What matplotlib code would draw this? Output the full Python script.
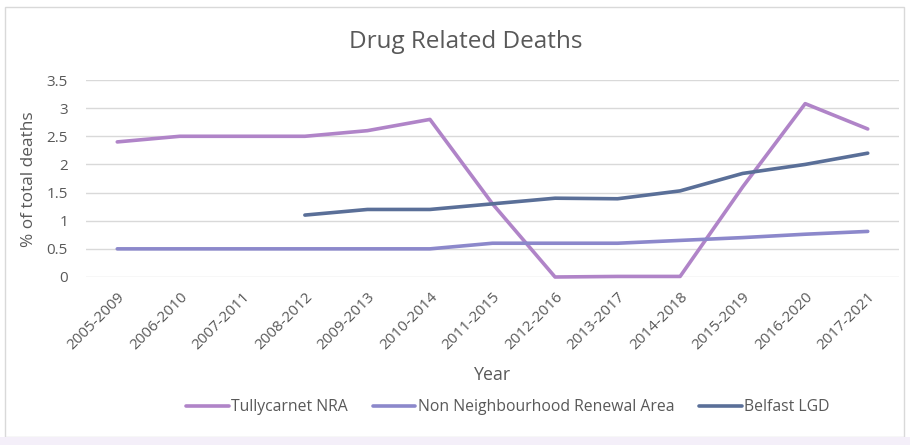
import matplotlib
matplotlib.use("Agg")
import matplotlib.pyplot as plt
from matplotlib.patches import Rectangle

categories = ["2005-2009", "2006-2010", "2007-2011", "2008-2012", "2009-2013", "2010-2014",
              "2011-2015", "2012-2016", "2013-2017", "2014-2018", "2015-2019", "2016-2020", "2017-2021"]
tullycarnet = [2.4, 2.5, 2.5, 2.5, 2.6, 2.8, 1.3, 0.0, 0.01, 0.01, 1.6, 3.08, 2.63]
non_nra = [0.5, 0.5, 0.5, 0.5, 0.5, 0.5, 0.6, 0.6, 0.6, 0.65, 0.7, 0.76, 0.81]
belfast = [None, None, None, 1.1, 1.2, 1.2, 1.3, 1.4, 1.39, 1.53, 1.84, 2.0, 2.2]

plt.rcParams['font.family'] = ['Open Sans', 'DejaVu Sans']
text_c = '#595959'

fig = plt.figure(figsize=(9.1, 4.45), dpi=100)
fig.patches.append(Rectangle((5/910, 8/445), 899/910, 430/445, transform=fig.transFigure,
                             fill=False, edgecolor='#D9D9D9', linewidth=1.0))
fig.patches.append(Rectangle((0, 0), 1, 8/445, transform=fig.transFigure,
                             facecolor='#F4EFF9', edgecolor='none'))

ax = fig.add_axes([86/910, (445-277)/445, (899-86)/910, (277-80)/445])
x = list(range(len(categories)))
bx = [i for i, v in zip(x, belfast) if v is not None]
bv = [v for v in belfast if v is not None]
ax.plot(x, tullycarnet, color='#B084C8', lw=2.6, label='Tullycarnet NRA', solid_capstyle='round', clip_on=False)
ax.plot(x, non_nra, color='#8C88CB', lw=2.6, label='Non Neighbourhood Renewal Area', solid_capstyle='round', clip_on=False)
ax.plot(bx, bv, color='#5A6F98', lw=2.6, label='Belfast LGD', solid_capstyle='round', clip_on=False)

ax.set_xlim(-0.5, len(categories) - 0.5)
ax.set_ylim(0, 3.5)
ax.set_yticks([0, 0.5, 1, 1.5, 2, 2.5, 3, 3.5])
ax.set_yticklabels(['0', '0.5', '1', '1.5', '2', '2.5', '3', '3.5'])
ax.set_xticks(x)
ax.set_xticklabels(categories, rotation=45, ha='right', rotation_mode='anchor')
ax.grid(axis='y', color='#D9D9D9', lw=1)
ax.set_axisbelow(True)
for s in ax.spines.values():
    s.set_visible(False)
ax.tick_params(axis='both', length=0, colors=text_c, labelsize=11)
ax.tick_params(axis='x', pad=9)
ax.tick_params(axis='y', pad=13)

fig.text(466/910, 1 - 42/445, 'Drug Related Deaths', ha='center', va='center', fontsize=17.5, color=text_c)
fig.text(29/910, (445-179)/445, '% of total deaths', rotation=90, ha='center', va='center', fontsize=12.4, color=text_c)
fig.text(493/910, 1 - 375/445, 'Year', ha='center', va='center', fontsize=12.8, color=text_c)

leg = fig.legend(loc='center', bbox_to_anchor=(508/910, 1 - 407/445), ncol=3, frameon=False,
                 fontsize=11.3, handlelength=2.7, handletextpad=0.15, columnspacing=1.6)
for t in leg.get_texts():
    t.set_color(text_c)

fig.savefig('out.png', dpi=100)
